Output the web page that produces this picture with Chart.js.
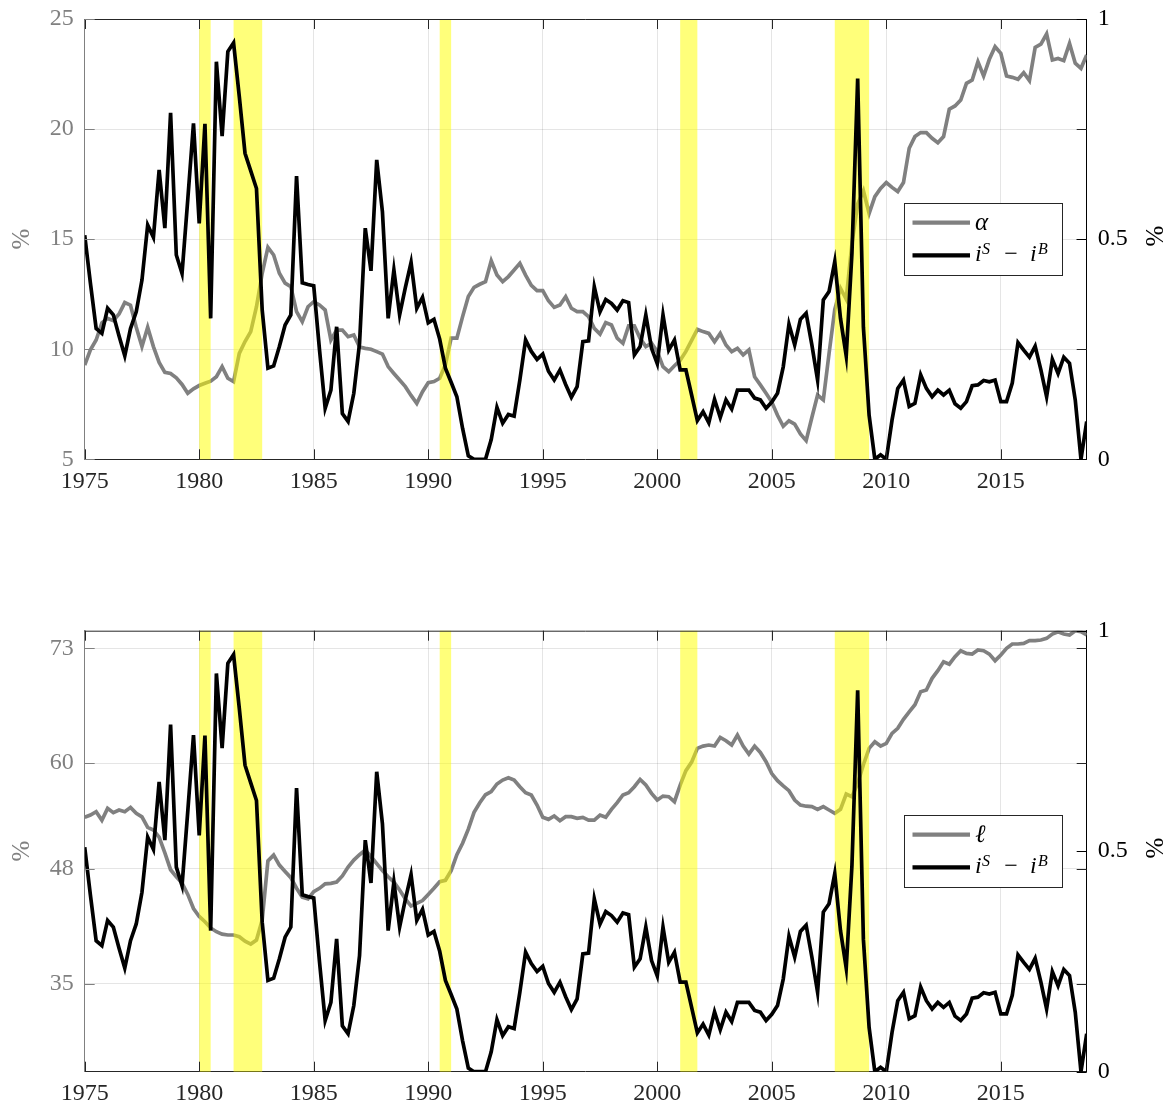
<!DOCTYPE html>
<html>
<head>
<meta charset="utf-8">
<script src="https://cdn.jsdelivr.net/npm/chart.js@4.4.1/dist/chart.umd.min.js"></script>
<style>
  html, body { margin: 0; padding: 0; background: #fff; overflow: hidden; }
  .panel { position: absolute; left: 0; width: 1171px; }
  #topWrap { top: 0; height: 500px; }
  #botWrap { top: 611px; height: 499px; }
</style>
</head>
<body>
<div class="panel" id="topWrap"><canvas id="topChart"></canvas></div>
<div class="panel" id="botWrap"><canvas id="botChart"></canvas></div>
<script>
// Two stacked panels sharing the same spread series (right axis, 0..1) with a
// different gray series on the left axis. Quarterly data, 1975Q1 .. 2018Q4.
(function () {
  "use strict";

  const START_YEAR = 1975;
  const END_YEAR = 2018;
  // quarterly time stamps, one per data point below
  const DATES = [];
  for (let y = START_YEAR; y <= END_YEAR; y++) {
    DATES.push(y, y + 0.25, y + 0.5, y + 0.75);
  }

  const X_TICKS = [1975, 1980, 1985, 1990, 1995, 2000, 2005, 2010, 2015];
  const ALPHA_TICKS = [5, 10, 15, 20, 25];
  const ELL_TICKS = [35, 48, 60, 73];
  const SPREAD_TICKS = [0, 0.5, 1];

  // recession shading, [start, end] in fractional years
  const RECESSIONS = [
    [1980.0, 1980.5],
    [1981.5, 1982.75],
    [1990.5, 1991.0],
    [2001.0, 2001.75],
    [2007.75, 2009.25],
  ];

  // i^S - i^B, right axis (%)
  const SPREAD = [
    0.509, 0.400, 0.297, 0.286,   // 1975
    0.343, 0.328, 0.280, 0.235,   // 1976
    0.297, 0.335, 0.407, 0.532,   // 1977
    0.504, 0.657, 0.525, 0.787,   // 1978
    0.464, 0.422, 0.590, 0.763,   // 1979
    0.536, 0.762, 0.320, 0.903,   // 1980
    0.734, 0.926, 0.946, 0.824,   // 1981
    0.695, 0.655, 0.615, 0.339,   // 1982
    0.207, 0.212, 0.256, 0.305,   // 1983
    0.328, 0.643, 0.401, 0.397,   // 1984
    0.394, 0.250, 0.116, 0.157,   // 1985
    0.301, 0.104, 0.086, 0.150,   // 1986
    0.263, 0.525, 0.428, 0.680,   // 1987
    0.562, 0.320, 0.430, 0.328,   // 1988
    0.390, 0.447, 0.343, 0.368,   // 1989
    0.310, 0.318, 0.273, 0.207,   // 1990
    0.175, 0.142, 0.070, 0.008,   // 1991
    0.000, 0.000, 0.000, 0.045,   // 1992
    0.118, 0.082, 0.102, 0.098,   // 1993
    0.180, 0.271, 0.245, 0.227,   // 1994
    0.239, 0.200, 0.180, 0.203,   // 1995
    0.170, 0.141, 0.165, 0.267,   // 1996
    0.269, 0.392, 0.335, 0.363,   // 1997
    0.354, 0.339, 0.360, 0.356,   // 1998
    0.237, 0.256, 0.328, 0.252,   // 1999
    0.217, 0.328, 0.248, 0.271,   // 2000
    0.203, 0.203, 0.146, 0.088,   // 2001
    0.108, 0.083, 0.136, 0.095,   // 2002
    0.135, 0.114, 0.157, 0.157,   // 2003
    0.157, 0.139, 0.135, 0.116,   // 2004
    0.130, 0.150, 0.210, 0.307,   // 2005
    0.260, 0.318, 0.332, 0.260,   // 2006
    0.180, 0.362, 0.381, 0.449,   // 2007
    0.320, 0.235, 0.468, 0.865,   // 2008
    0.300, 0.100, 0.000, 0.010,   // 2009
    0.000, 0.089, 0.161, 0.180,   // 2010
    0.120, 0.127, 0.192, 0.161,   // 2011
    0.142, 0.157, 0.146, 0.157,   // 2012
    0.126, 0.116, 0.131, 0.167,   // 2013
    0.169, 0.179, 0.176, 0.180,   // 2014
    0.131, 0.131, 0.173, 0.265,   // 2015
    0.248, 0.232, 0.257, 0.203,   // 2016
    0.142, 0.227, 0.195, 0.232,   // 2017
    0.218, 0.135, 0.000, 0.086,   // 2018
  ];

  // alpha, top panel left axis (%)
  const ALPHA = [
    9.28, 9.97, 10.42, 11.20,
    11.40, 11.30, 11.60, 12.12,
    12.00, 11.00, 10.12, 11.00,
    10.12, 9.40, 8.95, 8.90,
    8.70, 8.40, 8.00, 8.20,
    8.35, 8.45, 8.55, 8.75,
    9.21, 8.68, 8.53, 9.81,
    10.35, 10.80, 11.93, 13.45,
    14.63, 14.28, 13.45, 13.00,
    12.84, 11.71, 11.25, 11.93,
    12.16, 12.01, 11.78, 10.42,
    10.87, 10.87, 10.57, 10.65,
    10.10, 10.04, 10.00, 9.89,
    9.78, 9.21, 8.90, 8.60,
    8.30, 7.90, 7.54, 8.07,
    8.48, 8.53, 8.68, 9.30,
    10.50, 10.50, 11.48, 12.40,
    12.81, 12.95, 13.07, 14.02,
    13.37, 13.07, 13.30, 13.60,
    13.90, 13.37, 12.90, 12.66,
    12.66, 12.20, 11.90, 12.01,
    12.39, 11.86, 11.71, 11.71,
    11.48, 10.95, 10.69, 11.21,
    11.10, 10.50, 10.27, 11.06,
    11.06, 10.50, 10.12, 10.27,
    9.89, 9.21, 8.98, 9.25,
    9.50, 9.90, 10.40, 10.90,
    10.80, 10.72, 10.34, 10.72,
    10.19, 9.89, 10.04, 9.74,
    9.97, 8.75, 8.38, 8.00,
    7.60, 7.00, 6.50, 6.75,
    6.60, 6.15, 5.85, 6.90,
    7.92, 7.70, 9.80, 11.80,
    12.77, 12.27, 14.80, 16.60,
    17.20, 16.17, 16.93, 17.30,
    17.57, 17.35, 17.16, 17.57,
    19.13, 19.66, 19.84, 19.84,
    19.58, 19.38, 19.66, 20.90,
    21.05, 21.32, 22.08, 22.23,
    23.06, 22.41, 23.17, 23.74,
    23.44, 22.41, 22.35, 22.26,
    22.56, 22.20, 23.71, 23.86,
    24.32, 23.14, 23.21, 23.11,
    23.89, 22.99, 22.76, 23.36,
  ];

  // ell, bottom panel left axis (%)
  const ELL = [
    53.84, 54.10, 54.48, 53.50,
    54.86, 54.37, 54.67, 54.48,
    54.97, 54.29, 53.90, 52.70,
    52.40, 51.60, 49.80, 47.90,
    47.10, 46.40, 45.10, 43.50,
    42.60, 42.00, 41.30, 40.87,
    40.60, 40.50, 40.50, 40.30,
    39.80, 39.47, 39.93, 42.20,
    48.90, 49.56, 48.43, 47.70,
    47.00, 45.80, 44.80, 44.60,
    45.41, 45.79, 46.30, 46.35,
    46.50, 47.20, 48.20, 49.00,
    49.60, 50.13, 49.40, 48.60,
    47.80, 47.10, 46.50, 45.60,
    44.60, 43.78, 44.08, 44.40,
    45.10, 45.80, 46.54, 46.70,
    47.80, 49.60, 50.90, 52.50,
    54.40, 55.50, 56.40, 56.75,
    57.62, 58.07, 58.33, 58.07,
    57.31, 56.63, 56.37, 55.23,
    53.84, 53.61, 53.99, 53.46,
    53.91, 53.91, 53.72, 53.84,
    53.53, 53.53, 54.10, 53.84,
    54.74, 55.50, 56.37, 56.63,
    57.31, 58.14, 57.50, 56.56,
    55.80, 56.25, 56.18, 55.61,
    57.50, 59.13, 60.10, 61.66,
    61.92, 62.04, 61.92, 62.90,
    62.53, 62.04, 63.17, 61.92,
    61.02, 61.92, 61.20, 60.15,
    58.80, 58.00, 57.40, 56.86,
    55.80, 55.23, 55.10, 55.05,
    54.74, 55.05, 54.67, 54.29,
    54.74, 56.48, 56.18, 57.69,
    59.80, 61.66, 62.41, 61.92,
    62.23, 63.36, 63.93, 64.95,
    65.80, 66.60, 68.08, 68.27,
    69.60, 70.47, 71.48, 71.20,
    72.05, 72.73, 72.43, 72.35,
    72.81, 72.73, 72.35, 71.60,
    72.24, 73.00, 73.49, 73.49,
    73.56, 73.87, 73.87, 73.94,
    74.13, 74.62, 74.89, 74.62,
    74.51, 75.00, 74.89, 74.51,
  ];

  const GRAY = "#808080";
  const AXIS = "#262626";
  const GRID = "rgba(38, 38, 38, 0.12)";
  const BAND = "rgba(255, 255, 0, 0.52)";
  const SERIF = "'Liberation Serif', 'DejaVu Serif', serif";
  const TICK_FONT = { family: SERIF, size: 24 };
  const TICK_LEN = 10;

  const toPoints = (vals) => vals.map((v, i) => ({ x: DATES[i], y: v }));

  // drop the label-overflow padding Chart.js adds so the plot box lands
  // exactly where layout.padding puts it
  const noPad = (s) => {
    s.paddingTop = 0;
    s.paddingBottom = 0;
    s.paddingLeft = 0;
    s.paddingRight = 0;
  };

  function drawLegend(ctx, box, grayLabel) {
    ctx.save();
    ctx.fillStyle = "#fff";
    ctx.fillRect(box.x, box.y, box.w, box.h);
    ctx.strokeStyle = AXIS;
    ctx.lineWidth = 1;
    ctx.strokeRect(box.x + 0.5, box.y + 0.5, box.w, box.h);

    const row1 = box.y + 19.7;
    const row2 = box.y + 52.3;
    [[GRAY, row1], ["#000", row2]].forEach(([color, y]) => {
      ctx.strokeStyle = color;
      ctx.lineWidth = 4.2;
      ctx.beginPath();
      ctx.moveTo(box.x + 8.5, y);
      ctx.lineTo(box.x + 66, y);
      ctx.stroke();
    });

    ctx.fillStyle = "#000";
    ctx.textBaseline = "alphabetic";
    ctx.textAlign = "left";
    ctx.font = "italic 25px " + SERIF;
    ctx.fillText(grayLabel, box.x + 71, row1 + 7.5);

    const base = row2 + 5.6;
    ctx.font = "italic 24px " + SERIF;
    ctx.fillText("i", box.x + 71, base);
    ctx.fillText("i", box.x + 126, base);
    ctx.font = "italic 16px " + SERIF;
    ctx.fillText("S", box.x + 78, base - 7);
    ctx.fillText("B", box.x + 134, base - 7);
    ctx.font = "24px " + SERIF;
    ctx.textAlign = "center";
    ctx.fillText("\u2212", box.x + 107, base);
    ctx.restore();
  }

  function drawUnit(ctx, x, y, color) {
    ctx.save();
    ctx.translate(x, y);
    ctx.rotate(-Math.PI / 2);
    ctx.fillStyle = color;
    ctx.font = "25px " + SERIF;
    ctx.textAlign = "center";
    ctx.textBaseline = "middle";
    ctx.fillText("%", 0, 0);
    ctx.restore();
  }

  const decor = {
    id: "panelDecor",
    // the shading goes above the gray series but under the black one
    beforeDatasetDraw(chart, args) {
      if (args.index !== 1) return;
      const { ctx, chartArea: a, scales } = chart;
      ctx.save();
      ctx.fillStyle = BAND;
      RECESSIONS.forEach(([s, e]) => {
        const x0 = scales.x.getPixelForValue(s);
        const x1 = scales.x.getPixelForValue(e);
        ctx.fillRect(x0, a.top, x1 - x0, a.bottom - a.top);
      });
      ctx.restore();
    },
    afterDraw(chart, args, opts) {
      const { ctx, chartArea: a, scales } = chart;
      ctx.save();
      ctx.lineWidth = 1;
      // top edge of the box
      ctx.strokeStyle = AXIS;
      ctx.beginPath();
      ctx.moveTo(a.left, a.top + 0.5);
      ctx.lineTo(a.right, a.top + 0.5);
      ctx.stroke();
      // inward x ticks, bottom and top
      ctx.beginPath();
      X_TICKS.forEach((v) => {
        const px = Math.round(scales.x.getPixelForValue(v)) + 0.5;
        ctx.moveTo(px, a.bottom);
        ctx.lineTo(px, a.bottom - TICK_LEN);
        ctx.moveTo(px, a.top);
        ctx.lineTo(px, a.top + TICK_LEN);
      });
      ctx.stroke();
      // left ticks: gray on the left edge, mirrored on the right edge
      opts.leftTicks.forEach((v) => {
        const py = Math.round(scales.yL.getPixelForValue(v)) + 0.5;
        ctx.strokeStyle = GRAY;
        ctx.beginPath();
        ctx.moveTo(a.left, py);
        ctx.lineTo(a.left + TICK_LEN, py);
        ctx.stroke();
        ctx.strokeStyle = AXIS;
        ctx.beginPath();
        ctx.moveTo(a.right, py);
        ctx.lineTo(a.right - TICK_LEN, py);
        ctx.stroke();
      });
      // right axis ticks
      ctx.strokeStyle = "#000";
      ctx.beginPath();
      SPREAD_TICKS.forEach((v) => {
        const py = Math.round(scales.yR.getPixelForValue(v)) + 0.5;
        ctx.moveTo(a.right, py);
        ctx.lineTo(a.right - TICK_LEN, py);
      });
      ctx.stroke();
      ctx.restore();

      const midY = (a.top + a.bottom) / 2;
      drawUnit(ctx, 22, midY, GRAY);
      drawUnit(ctx, 1156, midY - 3, "#000");
      drawLegend(ctx, opts.legendBox, opts.grayLabel);
    },
  };

  function buildPanel(canvasId, cfg) {
    return new Chart(document.getElementById(canvasId), {
      type: "line",
      data: {
        datasets: [
          {
            label: cfg.grayLabel,
            data: toPoints(cfg.gray),
            yAxisID: "yL",
            borderColor: GRAY,
            borderWidth: 3.7,
            pointRadius: 0,
            tension: 0,
            order: 2,
          },
          {
            label: "spread",
            data: toPoints(SPREAD),
            yAxisID: "yR",
            borderColor: "#000",
            borderWidth: 3.7,
            pointRadius: 0,
            tension: 0,
            order: 1,
          },
        ],
      },
      options: {
        responsive: true,
        maintainAspectRatio: false,
        animation: false,
        layout: { padding: { top: cfg.padTop, left: 0, right: 0, bottom: 0 } },
        plugins: {
          legend: { display: false },
          tooltip: { enabled: false },
          panelDecor: {
            leftTicks: cfg.leftTicks,
            legendBox: cfg.legendBox,
            grayLabel: cfg.grayLabel,
          },
        },
        scales: {
          x: {
            type: "linear",
            min: 1975,
            max: 2018.75,
            afterBuildTicks: (s) => { s.ticks = X_TICKS.map((v) => ({ value: v })); },
            afterFit: (s) => { s.height = cfg.xAxisH; noPad(s); },
            grid: { color: GRID, drawTicks: false },
            border: { color: AXIS },
            ticks: {
              color: AXIS,
              font: TICK_FONT,
              padding: 8,
              maxRotation: 0,
              callback: (v) => String(v),
            },
          },
          yL: {
            type: "linear",
            position: "left",
            min: cfg.leftMin,
            max: cfg.leftMax,
            afterBuildTicks: (s) => { s.ticks = cfg.leftTicks.map((v) => ({ value: v })); },
            afterFit: (s) => { s.width = 84.7; noPad(s); },
            grid: { color: GRID, drawTicks: false },
            border: { color: GRAY },
            ticks: { color: GRAY, font: TICK_FONT, padding: 11, callback: (v) => String(v) },
          },
          yR: {
            type: "linear",
            position: "right",
            min: 0,
            max: 1,
            afterBuildTicks: (s) => { s.ticks = SPREAD_TICKS.map((v) => ({ value: v })); },
            afterFit: (s) => { s.width = 84.3; noPad(s); },
            grid: { display: false, drawTicks: false },
            border: { color: "#000" },
            ticks: { color: "#000", font: TICK_FONT, padding: 11, callback: (v) => String(v) },
          },
        },
      },
      plugins: [decor],
    });
  }

  buildPanel("topChart", {
    gray: ALPHA,
    grayLabel: "\u03B1",
    leftMin: 5,
    leftMax: 25,
    leftTicks: ALPHA_TICKS,
    padTop: 19,
    xAxisH: 40.7,
    legendBox: { x: 904, y: 203, w: 158, h: 72 },
  });

  buildPanel("botChart", {
    gray: ELL,
    grayLabel: "\u2113",
    leftMin: 25,
    leftMax: 75,
    leftTicks: ELL_TICKS,
    padTop: 19.7,
    xAxisH: 38.3,
    legendBox: { x: 904, y: 204, w: 158, h: 72 },
  });
})();
</script>
</body>
</html>
